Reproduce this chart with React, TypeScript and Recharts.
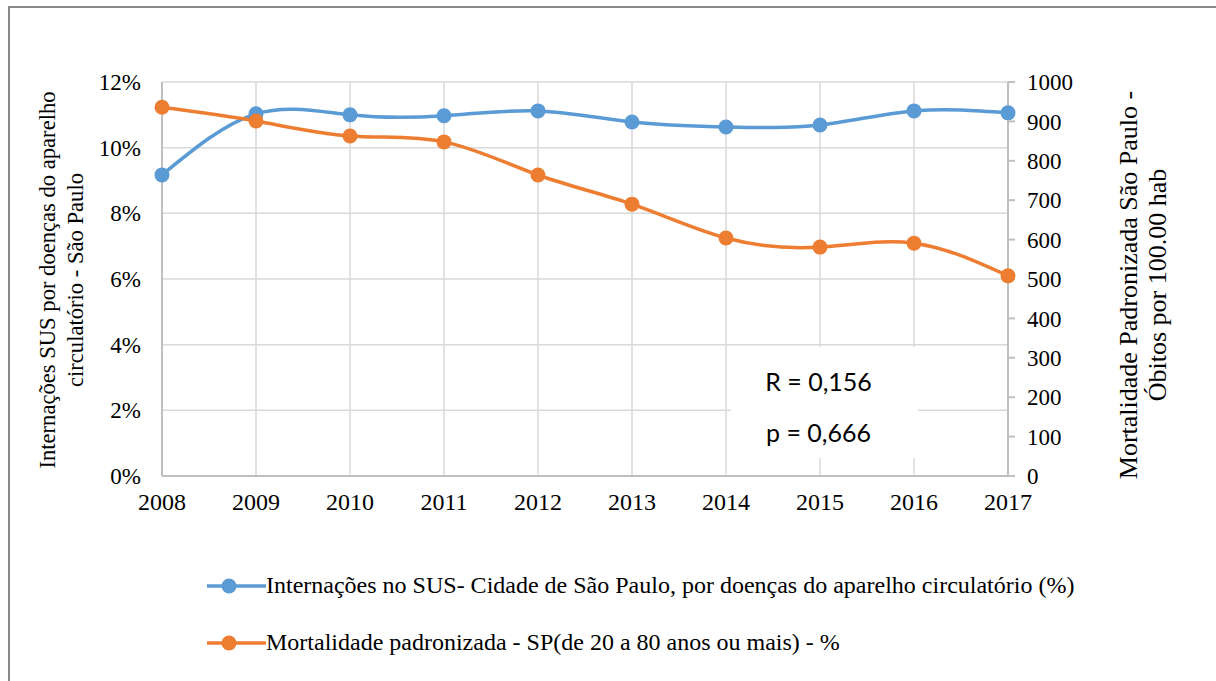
import React from 'react';
import {
  LineChart,
  Line,
  XAxis,
  YAxis,
  CartesianGrid,
  Legend,
} from 'recharts';

const YEARS = ['2008', '2009', '2010', '2011', '2012', '2013', '2014', '2015', '2016', '2017'];
const INTERNACOES = [9.17, 11.03, 11.0, 10.97, 11.12, 10.78, 10.63, 10.69, 11.12, 11.06];
const MORTALIDADE = [936, 901, 863, 848, 764, 690, 604, 581, 591, 508];
const LEFT_TICKS = [0, 2, 4, 6, 8, 10, 12];
const RIGHT_TICKS = [0, 100, 200, 300, 400, 500, 600, 700, 800, 900, 1000];

const BLUE = '#5B9BD5';
const ORANGE = '#ED7D31';
const SERIF = "'Liberation Serif', 'Times New Roman', serif";

const SERIES = [
  { key: 'internacoes', color: BLUE, name: 'Internações no SUS- Cidade de São Paulo, por doenças do aparelho circulatório (%)' },
  { key: 'mortalidade', color: ORANGE, name: 'Mortalidade padronizada - SP(de 20 a 80 anos ou mais) - %' },
];

const data = YEARS.map((year, i) => ({
  year,
  internacoes: INTERNACOES[i],
  mortalidade: MORTALIDADE[i],
}));

const yTick = { fill: '#000', fontSize: 23, style: { fontFamily: SERIF } };
const xTick = { fill: '#000', fontSize: 24, style: { fontFamily: SERIF } };

// axis titles: two lines each, rotated
const LeftTitle = () => (
  <text
    transform="rotate(-90, 61, 280)"
    x={61}
    y={280}
    textAnchor="middle"
    style={{ fontFamily: SERIF }}
    fontSize={22.6}
    fill="#000"
  >
    <tspan x={61} dy={-6}>Internações SUS por doenças do aparelho</tspan>
    <tspan x={61} dy={28}>circulatório - São Paulo</tspan>
  </text>
);

const RightTitle = () => (
  <text
    transform="rotate(-90, 1140, 285)"
    x={1140}
    y={285}
    textAnchor="middle"
    style={{ fontFamily: SERIF }}
    fontSize={26}
    fill="#000"
  >
    <tspan x={1140} dy={-3}>Mortalidade Padronizada São Paulo -</tspan>
    <tspan x={1140} dy={29}>Óbitos por 100.00 hab</tspan>
  </text>
);

const LegendContent = () => (
  <div style={{ paddingLeft: 207 }}>
    {SERIES.map((s) => (
      <div key={s.key} style={{ display: 'flex', alignItems: 'center', height: 57 }}>
        <svg width={59} height={20} style={{ flexShrink: 0 }}>
          <line x1={0} y1={10} x2={59} y2={10} stroke={s.color} strokeWidth={3.5} />
          <circle cx={22} cy={10} r={7.5} fill={s.color} />
        </svg>
        <span style={{ fontFamily: SERIF, fontSize: 24, color: '#000', whiteSpace: 'nowrap' }}>
          {s.name}
        </span>
      </div>
    ))}
  </div>
);

export default function App() {
  return (
    <div
      style={{
        position: 'absolute',
        left: 0,
        top: 0,
        width: 1216,
        height: 681,
        overflow: 'hidden',
        background: '#fff',
      }}
    >
      <div
        style={{
          position: 'absolute',
          left: 8,
          top: 6,
          width: 1260,
          height: 720,
          border: '2px solid #898989',
          boxSizing: 'border-box',
        }}
      />
      <LineChart
        width={1216}
        height={681}
        data={data}
        margin={{ top: 82, right: 146, bottom: 175, left: 100 }}
        style={{ position: 'absolute', left: 0, top: 0 }}
      >
        <CartesianGrid yAxisId="left" stroke="#d9d9d9" strokeWidth={1.5} />
        <XAxis
          dataKey="year"
          height={30}
          stroke="#bfbfbf"
          strokeWidth={2}
          tickLine={false}
          tickMargin={11}
          tick={xTick}
        />
        <YAxis
          yAxisId="left"
          width={62}
          domain={[0, 12]}
          ticks={LEFT_TICKS}
          tickFormatter={(v) => `${v}%`}
          stroke="#bfbfbf"
          strokeWidth={2}
          tickLine={false}
          tickMargin={15}
          tick={yTick}
          label={<LeftTitle />}
        />
        <YAxis
          yAxisId="right"
          orientation="right"
          width={62}
          domain={[0, 1000]}
          ticks={RIGHT_TICKS}
          stroke="#bfbfbf"
          strokeWidth={2}
          tickSize={7}
          tickMargin={12}
          tick={yTick}
          label={<RightTitle />}
        />
        <Legend
          layout="horizontal"
          verticalAlign="middle"
          align="center"
          content={<LegendContent />}
          wrapperStyle={{ left: 0, top: 557, width: 1216 }}
        />
        <Line
          yAxisId="left"
          type="natural"
          dataKey="internacoes"
          name={SERIES[0].name}
          stroke={BLUE}
          strokeWidth={3.5}
          dot={{ r: 7.5, fill: BLUE, stroke: BLUE, strokeWidth: 0 }}
          activeDot={false}
          isAnimationActive={false}
        />
        <Line
          yAxisId="right"
          type="natural"
          dataKey="mortalidade"
          name={SERIES[1].name}
          stroke={ORANGE}
          strokeWidth={3.5}
          dot={{ r: 7.5, fill: ORANGE, stroke: ORANGE, strokeWidth: 0 }}
          activeDot={false}
          isAnimationActive={false}
        />
      </LineChart>
      <div
        style={{
          position: 'absolute',
          left: 731,
          top: 347,
          width: 187,
          height: 111,
          background: '#fff',
          fontFamily: 'Lato, "Open Sans", sans-serif',
          fontSize: 25,
          color: '#000',
          textAlign: 'center',
        }}
      >
        <div style={{ position: 'absolute', left: 0, right: 0, top: 18, lineHeight: '32px', paddingRight: 12 }}>
          R = 0,156
        </div>
        <div style={{ position: 'absolute', left: 0, right: 0, top: 69, lineHeight: '32px', paddingRight: 12 }}>
          p = 0,666
        </div>
      </div>
    </div>
  );
}
